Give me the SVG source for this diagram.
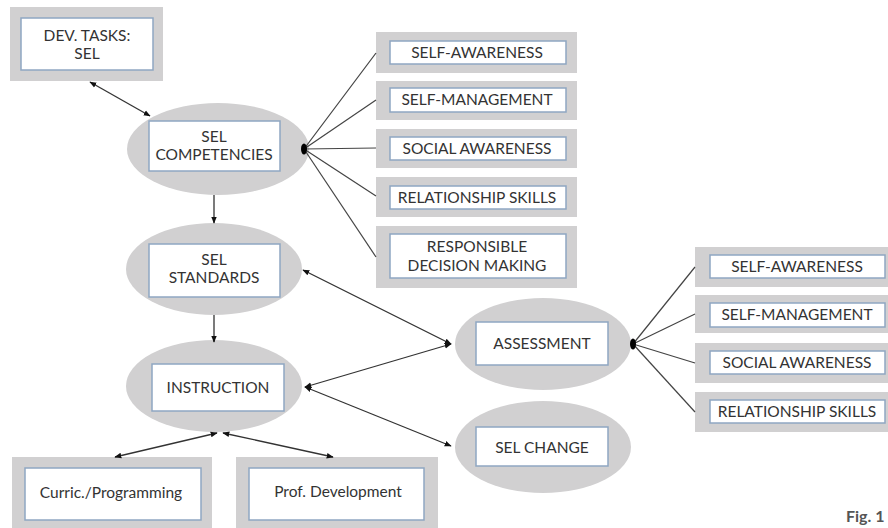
<svg xmlns="http://www.w3.org/2000/svg" width="888" height="528" viewBox="0 0 888 528">
<defs>
<style>
.outer{fill:#d1d0d1;}
.inner{fill:#ffffff;stroke:#8fa6c2;stroke-width:1.5;}
.ell{fill:#d1d0d1;}
.t{font-family:Lato,"Open Sans","Liberation Sans",sans-serif;font-size:15.5px;fill:#333333;text-anchor:middle;}
.c{stroke:#444444;stroke-width:1.2;fill:none;}
.a{stroke:#333333;stroke-width:1.3;fill:none;marker-start:url(#ah);marker-end:url(#ah);}
.a1{stroke:#333333;stroke-width:1.3;fill:none;marker-end:url(#ah);}
.dot{fill:#000000;}
.fig{font-family:Lato,"Open Sans","Liberation Sans",sans-serif;font-size:16px;font-weight:bold;fill:#555555;}
</style>
<marker id="ah" viewBox="0 0 10 10" refX="9" refY="5" markerWidth="7" markerHeight="7" markerUnits="userSpaceOnUse" orient="auto-start-reverse">
<path d="M0,1 L10,5 L0,9 Z" fill="#111111"/>
</marker>
</defs>
<rect width="888" height="528" fill="#ffffff"/>

<g id="dev-tasks">
<rect class="outer" x="10" y="7" width="153" height="74"/>
<rect class="inner" x="21" y="18" width="132" height="52"/>
<text class="t" x="87" y="41">DEV. TASKS:</text>
<text class="t" x="87" y="59">SEL</text>
</g>

<g id="sel-competencies">
<ellipse class="ell" cx="218" cy="149" rx="91" ry="46"/>
<rect class="inner" x="149" y="121" width="131" height="50"/>
<text class="t" x="214" y="142">SEL</text>
<text class="t" x="214" y="160">COMPETENCIES</text>
</g>

<g id="sel-standards">
<ellipse class="ell" cx="214" cy="269" rx="88" ry="46"/>
<rect class="inner" x="149" y="244" width="131" height="53"/>
<text class="t" x="214" y="265">SEL</text>
<text class="t" x="214" y="283">STANDARDS</text>
</g>

<g id="instruction">
<ellipse class="ell" cx="214" cy="386" rx="88" ry="46"/>
<rect class="inner" x="152" y="364" width="132" height="47"/>
<text class="t" x="218" y="393">INSTRUCTION</text>
</g>

<g id="curric">
<rect class="outer" x="12" y="457" width="200" height="71"/>
<rect class="inner" x="25" y="468" width="176" height="52"/>
<text class="t" x="111" y="498">Curric./Programming</text>
</g>

<g id="prof-dev">
<rect class="outer" x="236" y="457" width="202" height="71"/>
<rect class="inner" x="249" y="468" width="175" height="52"/>
<text class="t" x="338" y="497">Prof. Development</text>
</g>

<g id="assessment">
<ellipse class="ell" cx="543" cy="344" rx="88" ry="46"/>
<rect class="inner" x="476" y="322" width="132" height="43"/>
<text class="t" x="542" y="349">ASSESSMENT</text>
</g>

<g id="sel-change">
<ellipse class="ell" cx="543" cy="447" rx="88" ry="46"/>
<rect class="inner" x="476" y="427" width="132" height="39"/>
<text class="t" x="542" y="453">SEL CHANGE</text>
</g>

<g id="comp-self-awareness">
<rect class="outer" x="376" y="32" width="201" height="41"/>
<rect class="inner" x="390" y="41" width="176" height="23"/>
<text class="t" x="477" y="58">SELF-AWARENESS</text>
</g>
<g id="comp-self-management">
<rect class="outer" x="376" y="81" width="201" height="39"/>
<rect class="inner" x="390" y="88" width="176" height="24"/>
<text class="t" x="477" y="105">SELF-MANAGEMENT</text>
</g>
<g id="comp-social-awareness">
<rect class="outer" x="376" y="129" width="201" height="39"/>
<rect class="inner" x="390" y="137" width="176" height="23"/>
<text class="t" x="477" y="154">SOCIAL AWARENESS</text>
</g>
<g id="comp-relationship-skills">
<rect class="outer" x="376" y="177" width="201" height="40"/>
<rect class="inner" x="390" y="186" width="176" height="23"/>
<text class="t" x="477" y="203">RELATIONSHIP SKILLS</text>
</g>
<g id="comp-responsible-decision">
<rect class="outer" x="376" y="226" width="201" height="62"/>
<rect class="inner" x="390" y="234" width="176" height="44"/>
<text class="t" x="477" y="252">RESPONSIBLE</text>
<text class="t" x="477" y="271">DECISION MAKING</text>
</g>

<g id="assess-self-awareness">
<rect class="outer" x="695" y="247" width="193" height="40"/>
<rect class="inner" x="710" y="255" width="175" height="23"/>
<text class="t" x="797" y="272">SELF-AWARENESS</text>
</g>
<g id="assess-self-management">
<rect class="outer" x="695" y="295" width="193" height="38"/>
<rect class="inner" x="710" y="303" width="175" height="24"/>
<text class="t" x="797" y="320">SELF-MANAGEMENT</text>
</g>
<g id="assess-social-awareness">
<rect class="outer" x="695" y="343" width="193" height="40"/>
<rect class="inner" x="710" y="351" width="175" height="23"/>
<text class="t" x="797" y="368">SOCIAL AWARENESS</text>
</g>
<g id="assess-relationship-skills">
<rect class="outer" x="695" y="392" width="193" height="40"/>
<rect class="inner" x="710" y="400" width="175" height="23"/>
<text class="t" x="797" y="417">RELATIONSHIP SKILLS</text>
</g>

<g id="connectors">
<line class="a" x1="90" y1="82" x2="150" y2="116"/>
<line class="a1" x1="214" y1="195" x2="214" y2="223"/>
<line class="a1" x1="214" y1="315" x2="214" y2="342"/>
<line class="a" x1="303" y1="270" x2="451" y2="344"/>
<line class="a" x1="305" y1="387" x2="451" y2="344"/>
<line class="a" x1="305" y1="387" x2="451" y2="446"/>
<line class="a" x1="217" y1="433" x2="115" y2="457"/>
<line class="a" x1="223" y1="433" x2="333" y2="457"/>
<line class="c" x1="304" y1="149" x2="376" y2="53"/>
<line class="c" x1="304" y1="149" x2="376" y2="100"/>
<line class="c" x1="304" y1="149" x2="376" y2="148"/>
<line class="c" x1="304" y1="149" x2="376" y2="196"/>
<line class="c" x1="304" y1="149" x2="376" y2="257"/>
<line class="c" x1="633" y1="344" x2="695" y2="267"/>
<line class="c" x1="633" y1="344" x2="695" y2="314"/>
<line class="c" x1="633" y1="344" x2="695" y2="363"/>
<line class="c" x1="633" y1="344" x2="695" y2="412"/>
<ellipse class="dot" cx="304" cy="149" rx="3" ry="5.5"/>
<ellipse class="dot" cx="633" cy="344" rx="3" ry="5.5"/>
</g>

<text class="fig" x="846" y="522">Fig. 1</text>
</svg>
